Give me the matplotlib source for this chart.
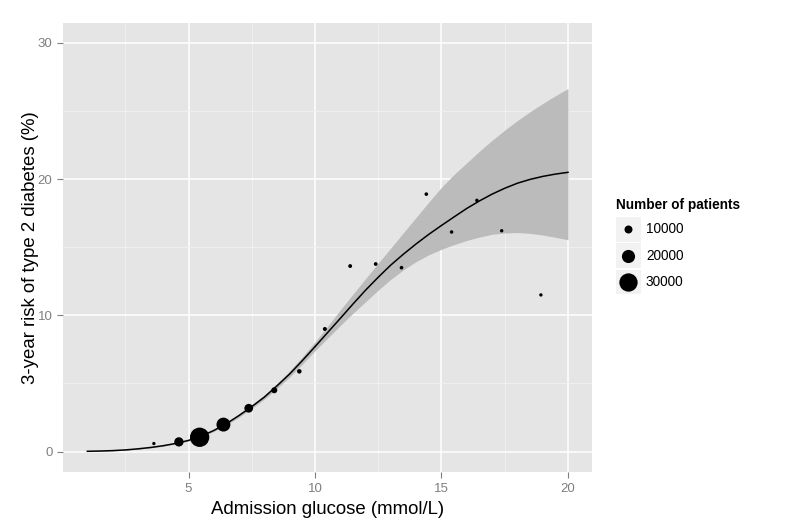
import matplotlib
matplotlib.use("Agg")
import matplotlib.pyplot as plt
from matplotlib.patches import Rectangle
import numpy as np

plt.rcParams['font.family'] = ['Liberation Sans', 'DejaVu Sans']

# ---- data ----
glucose = [3.63, 4.62, 5.44, 6.38, 7.38, 8.39, 9.38, 10.39, 11.39, 12.40,
           13.42, 14.40, 15.40, 16.40, 17.38, 18.93]
risk = [0.59, 0.71, 1.05, 1.98, 3.18, 4.50, 5.89, 9.00, 13.62, 13.77,
        13.50, 18.90, 16.12, 18.44, 16.21, 11.50]
patients = [900, 12500, 32000, 21500, 11400, 6100, 3200, 2200, 2000, 1800,
            1600, 1500, 1300, 1200, 1100, 1000]

fit_x = [1.0, 1.5, 2.0, 2.5, 3.0, 3.5, 4.0, 4.5, 5.0, 5.5, 6.0, 6.5, 7.0, 7.5,
         8.0, 8.5, 9.0, 9.5, 10.0, 10.5, 11.0, 11.5, 12.0, 12.5, 13.0, 13.5,
         14.0, 14.5, 15.0, 15.5, 16.0, 16.5, 17.0, 17.5, 18.0, 18.5, 19.0,
         19.5, 20.0]
fit_y = [0.02, 0.04, 0.07, 0.12, 0.20, 0.30, 0.43, 0.60, 0.82, 1.13, 1.55,
         2.05, 2.65, 3.30, 4.00, 4.83, 5.70, 6.68, 7.70, 8.74, 9.78, 10.83,
         11.85, 12.80, 13.70, 14.50, 15.25, 15.95, 16.60, 17.23, 17.85, 18.40,
         18.90, 19.33, 19.70, 19.98, 20.20, 20.37, 20.50]
fit_lo = [0.00, 0.02, 0.05, 0.10, 0.17, 0.27, 0.39, 0.56, 0.77, 1.06, 1.47,
          1.95, 2.53, 3.16, 3.85, 4.63, 5.48, 6.42, 7.40, 8.33, 9.25, 10.15,
          11.00, 11.85, 12.65, 13.35, 13.95, 14.45, 14.85, 15.20, 15.50, 15.75,
          15.95, 16.05, 16.08, 16.02, 15.90, 15.73, 15.55]
fit_hi = [0.05, 0.07, 0.10, 0.15, 0.24, 0.34, 0.48, 0.65, 0.88, 1.20, 1.64,
          2.16, 2.78, 3.45, 4.17, 5.00, 5.93, 6.95, 8.05, 9.20, 10.40, 11.55,
          12.70, 13.83, 14.95, 16.08, 17.20, 18.32, 19.40, 20.35, 21.20, 22.05,
          22.85, 23.60, 24.30, 24.95, 25.55, 26.12, 26.65]

x_ticks = [5, 10, 15, 20]
y_ticks = [0, 10, 20, 30]
legend_values = [10000, 20000, 30000]

DPI = 100


def marker_area(n):
    d_px = 2.85 + 0.000515 * np.asarray(n, dtype=float)
    return (d_px * 72.0 / DPI) ** 2


W, H = 797, 531
fig = plt.figure(figsize=(W / DPI, H / DPI), dpi=DPI)
fig.patch.set_facecolor('white')

pl, pr, pt, pb = 63.3, 592.0, 22.5, 472.0
ax = fig.add_axes([pl / W, 1 - pb / H, (pr - pl) / W, (pb - pt) / H])
ax.set_facecolor('#E5E5E5')
for s in ax.spines.values():
    s.set_visible(False)

ax.set_xlim(0.05, 20.95)
ax.set_ylim(-1.5, 31.5)
ax.set_xticks(x_ticks)
ax.set_yticks(y_ticks)
ax.set_xticks([2.5, 7.5, 12.5, 17.5], minor=True)
ax.set_yticks([5, 15, 25], minor=True)
ax.grid(which='major', color='white', linewidth=1.1)
ax.grid(which='minor', color='#F2F2F2', linewidth=0.6)
ax.set_axisbelow(True)
ax.tick_params(which='major', length=4.3, width=0.8, color='#7F7F7F',
               labelcolor='#7F7F7F', labelsize=9.5, pad=3.5)
ax.tick_params(which='minor', length=0)

ax.fill_between(fit_x, fit_lo, fit_hi, color='#BBBBBB', linewidth=0, zorder=2)
ax.plot(fit_x, fit_y, color='black', linewidth=1.1, zorder=3)
ax.scatter(glucose, risk, s=marker_area(patients), color='black',
           linewidths=0, zorder=4)

ax.set_xlabel('Admission glucose (mmol/L)', fontsize=13.4, labelpad=4.5)
ax.set_ylabel('3-year risk of type 2 diabetes (%)', fontsize=13.4,
              labelpad=-0.8)

# ---- legend ----
fig.text(616 / W, 1 - 205 / H, 'Number of patients', fontsize=9.8,
         fontweight='bold', va='center', ha='left')
lax = fig.add_axes([0, 0, 1, 1], facecolor='none')
lax.set_xlim(0, W)
lax.set_ylim(H, 0)
lax.axis('off')
key_top = 217.0
key_h = 26.3
for i, v in enumerate(legend_values):
    y0 = key_top + i * key_h
    lax.add_patch(Rectangle((616, y0), 25, key_h - 1.5, facecolor='#F2F2F2',
                            edgecolor='none'))
    cy = y0 + (key_h - 1.5) / 2
    lax.scatter([628.5], [cy], s=marker_area([v]), color='black', linewidths=0)
    lax.text(646, cy, str(v), fontsize=9.8, va='center', ha='left')

fig.savefig('out.png', dpi=DPI)
